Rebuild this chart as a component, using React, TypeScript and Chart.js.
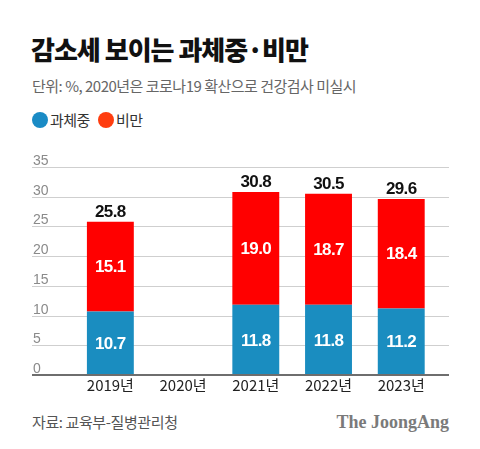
import React, { useEffect, useRef } from "react";
import { Chart, registerables } from "chart.js";

Chart.register(...registerables);

const categories = ["2019년", "2020년", "2021년", "2022년", "2023년"];
const overweight = [10.7, null, 11.8, 11.8, 11.2];
const obese = [15.1, null, 19.0, 18.7, 18.4];
const totals = [25.8, null, 30.8, 30.5, 29.6];
const yTicks = [0, 5, 10, 15, 20, 25, 30, 35];

const BLUE = "#1a8dc0";
const RED = "#ff0000";
const KR = "'Noto Sans CJK KR', 'Noto Sans', sans-serif";
const NUM = "'Liberation Sans', Arial, sans-serif";

const overlay = {
  id: "overlay",
  beforeDatasetsDraw(chart: any) {
    const ctx = chart.ctx;
    const y = chart.scales.y;
    ctx.save();
    yTicks.forEach((v) => {
      const py = Math.round(y.getPixelForValue(v)) + 0.5;
      if (v !== 0) {
        ctx.strokeStyle = "#cfcfcf";
        ctx.lineWidth = 1;
        ctx.beginPath();
        ctx.moveTo(32, py);
        ctx.lineTo(449, py);
        ctx.stroke();
      }
      ctx.fillStyle = "#8a8a8a";
      ctx.font = `14px ${NUM}`;
      ctx.textAlign = "left";
      ctx.textBaseline = "alphabetic";
      ctx.fillText(String(v), 33, py - 3);
    });
    ctx.restore();
  },
  afterDatasetsDraw(chart: any) {
    const ctx = chart.ctx;
    const y = chart.scales.y;
    ctx.save();
    const by = y.getPixelForValue(0);
    ctx.strokeStyle = "#6e6e6e";
    ctx.lineWidth = 2;
    ctx.beginPath();
    ctx.moveTo(32, by);
    ctx.lineTo(449, by);
    ctx.stroke();
    ctx.font = `bold 17px ${NUM}`;
    try { (ctx as any).letterSpacing = "-0.6px"; } catch (e) {}
    ctx.textAlign = "center";
    ctx.textBaseline = "middle";
    chart.data.datasets.forEach((ds: any, di: number) => {
      const meta = chart.getDatasetMeta(di);
      meta.data.forEach((el: any, i: number) => {
        const v = ds.data[i];
        if (v == null) return;
        ctx.fillStyle = "#ffffff";
        ctx.fillText(v.toFixed(1), el.x, (el.y + el.base) / 2 + 1);
      });
    });
    const topMeta = chart.getDatasetMeta(chart.data.datasets.length - 1);
    ctx.fillStyle = "#111111";
    ctx.textBaseline = "alphabetic";
    topMeta.data.forEach((el: any, i: number) => {
      const t = totals[i];
      if (t == null) return;
      ctx.fillText(t.toFixed(1), el.x, y.getPixelForValue(t) - 5);
    });
    ctx.restore();
  },
};

function ChartBox() {
  const ref = useRef<HTMLCanvasElement | null>(null);
  useEffect(() => {
    if (!ref.current) return;
    const chart = new Chart(ref.current, {
      type: "bar",
      data: {
        labels: categories,
        datasets: [
          { label: "과체중", data: overweight as any, backgroundColor: BLUE, borderWidth: 0 },
          { label: "비만", data: obese as any, backgroundColor: RED, borderWidth: 0 },
        ],
      },
      options: {
        animation: false,
        responsive: false,
        maintainAspectRatio: false,
        datasets: { bar: { categoryPercentage: 1, barPercentage: 0.645 } },
        layout: { padding: { left: 74, right: 42.4, top: 27, bottom: 0 } },
        plugins: { legend: { display: false }, tooltip: { enabled: false } },
        scales: {
          x: {
            stacked: true,
            offset: true,
            grid: { display: false, drawTicks: false },
            border: { display: false },
            ticks: {
              color: "#222",
              font: { family: KR, size: 15 },
              padding: 1,
              maxRotation: 0,
              autoSkip: false,
            },
            afterFit: (s: any) => {
              s.height = 25;
            },
          },
          y: {
            stacked: true,
            display: false,
            min: 0,
            max: 35,
          },
        },
      },
      plugins: [overlay],
    });
    return () => chart.destroy();
  }, []);
  return <canvas ref={ref} width={480} height={260} style={{ position: "absolute", left: 0, top: 140, width: 480, height: 260 }} />;
}

export default function App() {
  return (
    <div style={{ position: "absolute", left: 0, top: 0, width: 480, height: 449, background: "#fff", overflow: "hidden", fontFamily: KR }}>
      <div style={{ position: "absolute", left: 31, top: 34, fontSize: 26, lineHeight: "30px", fontWeight: 900, letterSpacing: -1, color: "#111", whiteSpace: "nowrap" }}>
        감소세 보이는 과체중·비만
      </div>
      <div style={{ position: "absolute", left: 32, top: 76, fontSize: 15, lineHeight: "20px", color: "#666", letterSpacing: -0.5, whiteSpace: "nowrap" }}>
        단위: %, 2020년은 코로나19 확산으로 건강검사 미실시
      </div>
      <div style={{ position: "absolute", left: 32, top: 110, height: 20, display: "flex", alignItems: "center", fontSize: 15, lineHeight: "20px", color: "#333", whiteSpace: "nowrap" }}>
        <span style={{ display: "inline-block", width: 16, height: 16, borderRadius: 8, background: "#1a8bc5", marginRight: 2 }} />
        <span style={{ letterSpacing: -0.5 }}>과체중</span>
        <span style={{ display: "inline-block", width: 16, height: 16, borderRadius: 8, background: "#ff3d0f", marginLeft: 8, marginRight: 2 }} />
        <span style={{ letterSpacing: -0.5 }}>비만</span>
      </div>
      <ChartBox />
      <div style={{ position: "absolute", left: 32, top: 412, fontSize: 15, lineHeight: "20px", color: "#555", letterSpacing: -0.4, whiteSpace: "nowrap" }}>
        자료: 교육부-질병관리청
      </div>
      <div style={{ position: "absolute", right: 31, top: 410, fontSize: 18, lineHeight: "24px", color: "#7a7a7a", fontWeight: 700, fontFamily: "'Liberation Serif', 'DejaVu Serif', serif", whiteSpace: "nowrap" }}>
        The JoongAng
      </div>
    </div>
  );
}
